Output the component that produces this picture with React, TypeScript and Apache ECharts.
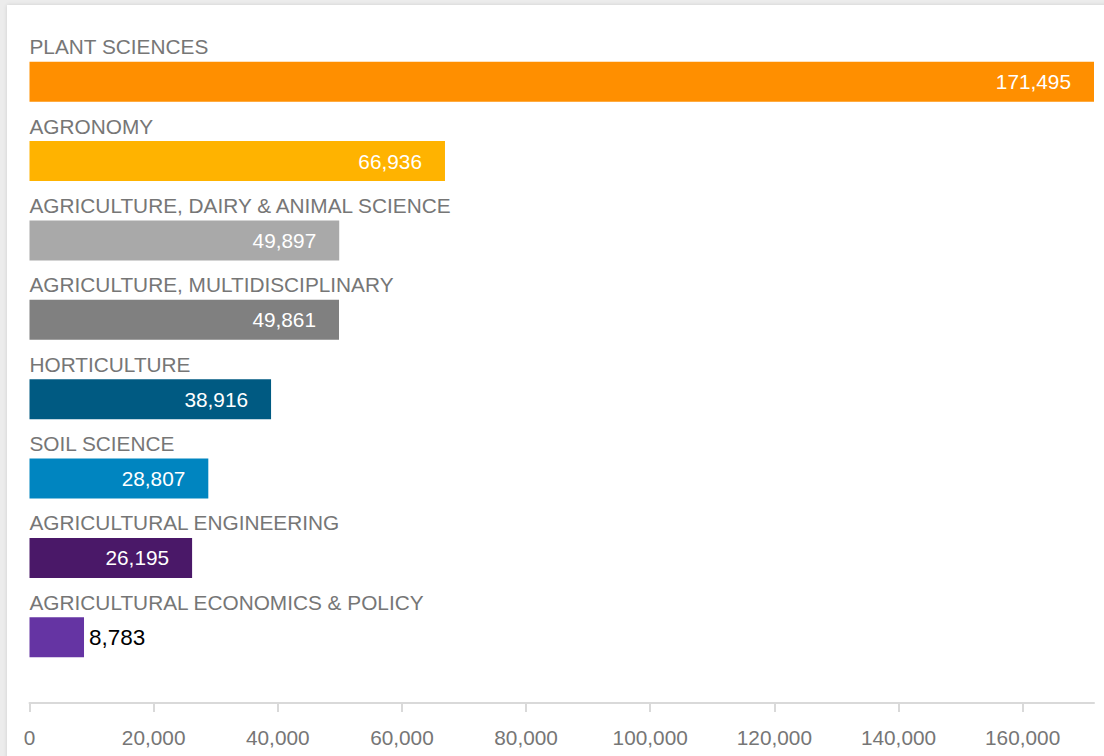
import React, { useEffect, useRef } from "react";
import * as echarts from "echarts";

const categories = [
  "PLANT SCIENCES",
  "AGRONOMY",
  "AGRICULTURE, DAIRY & ANIMAL SCIENCE",
  "AGRICULTURE, MULTIDISCIPLINARY",
  "HORTICULTURE",
  "SOIL SCIENCE",
  "AGRICULTURAL ENGINEERING",
  "AGRICULTURAL ECONOMICS & POLICY",
];
const values = [171495, 66936, 49897, 49861, 38916, 28807, 26195, 8783];
const colors = [
  "#FF8F00",
  "#FFB300",
  "#A9A9A9",
  "#808080",
  "#005A82",
  "#0085C0",
  "#4A1868",
  "#6534A3",
];

const fmt = (v: number) => Math.round(v).toLocaleString("en-US");
const FONT = "'Liberation Sans', Arial, sans-serif";
const FS = 20.8;

export default function App() {
  const ref = useRef<HTMLDivElement>(null);
  useEffect(() => {
    if (!ref.current) return;
    const chart = echarts.init(ref.current, undefined, { renderer: "svg" });
    const mainData = values.map((v, i) => {
      const last = i === values.length - 1;
      return {
        value: v,
        itemStyle: { color: colors[i] },
        label: last
          ? { position: "right", distance: 5, color: "#000000", fontSize: 22.5 }
          : { position: "insideRight", distance: 23, color: "#ffffff" },
      };
    });
    chart.setOption({
      animation: false,
      grid: { left: 29.5, right: 10, top: 42, bottom: 79, containLabel: false },
      xAxis: {
        type: "value",
        min: 0,
        max: "dataMax",
        interval: 20000,
        position: "bottom",
        offset: 26,
        axisLine: { show: true, lineStyle: { color: "#d9d9d9", width: 2 } },
        axisTick: { show: true, length: 9, lineStyle: { color: "#d9d9d9", width: 2 } },
        splitLine: { show: false },
        axisLabel: {
          color: "#767676",
          fontSize: FS,
          fontFamily: FONT,
          margin: 24,
          showMaxLabel: false,
          formatter: (v: number) => fmt(v),
        },
      },
      yAxis: {
        type: "category",
        data: categories,
        inverse: true,
        show: false,
      },
      series: [
        {
          type: "bar",
          data: mainData,
          barWidth: 40,
          label: {
            show: true,
            fontSize: FS,
            fontFamily: FONT,
            formatter: (p: any) => fmt(p.value),
          },
          silent: true,
          z: 2,
        },
        {
          type: "bar",
          data: values,
          barWidth: 40,
          barGap: "-100%",
          itemStyle: { color: "rgba(0,0,0,0)" },
          label: {
            show: true,
            position: [0, -15],
            align: "left",
            verticalAlign: "middle",
            fontSize: FS,
            fontFamily: FONT,
            color: "#767676",
            formatter: (p: any) => p.name,
          },
          silent: true,
          z: 3,
        },
      ],
    });
    return () => chart.dispose();
  }, []);

  return (
    <div
      style={{
        position: "fixed",
        left: 0,
        top: 0,
        width: 1104,
        height: 756,
        background: "#ececec",
        overflow: "hidden",
      }}
    >
      <div
        style={{
          position: "absolute",
          left: 7,
          top: 5,
          right: -10,
          bottom: -10,
          background: "#ffffff",
          boxShadow: "0 0 4px rgba(0,0,0,0.12)",
        }}
      />
      <div
        ref={ref}
        style={{ position: "absolute", left: 0, top: 0, width: 1104, height: 756 }}
      />
    </div>
  );
}
